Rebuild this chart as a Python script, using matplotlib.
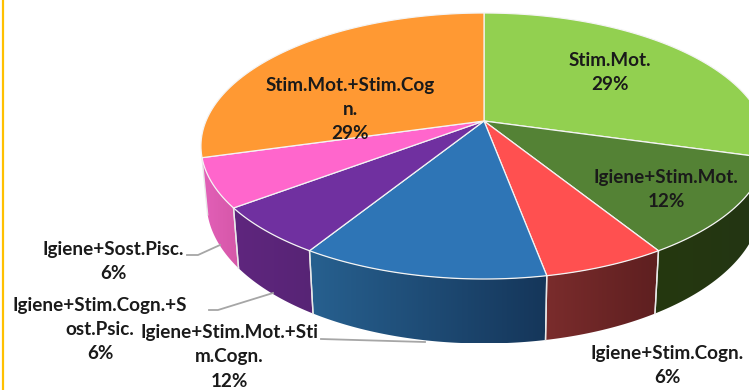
import numpy as np
import matplotlib
matplotlib.use("Agg")
import matplotlib.pyplot as plt
from matplotlib.colors import to_rgb
from matplotlib.patches import Polygon

categories = ["Stim.Mot.", "Igiene+Stim.Mot.", "Igiene+Stim.Cogn.", "Igiene+Stim.Mot.+Sti\nm.Cogn.",
              "Igiene+Stim.Cogn.+S\nost.Psic.", "Igiene+Sost.Pisc.", "Stim.Mot.+Stim.Cog\nn."]
values = [29.4, 11.8, 5.9, 11.8, 5.9, 5.9, 29.4]
top_colors = ["#92D050", "#548235", "#FF5050", "#2E75B6", "#7030A0", "#FF66CC", "#FF9933"]
# rim shading, left end then right end
rim_colors = [("#5f8a34", "#5f8a34"), ("#25380f", "#233514"), ("#7a2c2c", "#5e1f20"),
              ("#27608f", "#15365a"), ("#5f267e", "#572475"), ("#e360b8", "#d557a8"), ("#c47a2c", "#c47a2c")]
# centre of the first line of each label
label_pos = [(610, 60), (666, 177), (667, 353), (229, 332.5), (100, 305), (113, 249), (350, 85)]
line_pitch = 24.3
leaders = [None, None, None,
           [(321, 339), (425, 342)],
           [(209, 310), (218, 310), (273, 293)],
           [(187, 255), (198, 255), (220, 245)],
           None]

# perspective pie: apex in pixels, radii and tilt of the projected circle
X0, Y0 = 484, 121
RX, RY, K = 278, 128.3, 0.188
RIM_SCALE_X, RIM_SCALE_Y, RIM_DROP = 0.98, 1.06, 55


def project(theta):
    # theta in radians, clockwise from the top of the pie
    u, v = np.sin(theta), -np.cos(theta)
    d = 1 - K * v
    return RX * u / d, RY * v / d


def top_arc(a, b, n=80):
    x, y = project(np.linspace(a, b, n))
    return X0 + x, Y0 + y


def rim_arc(a, b, n=80):
    x, y = project(np.linspace(a, b, n))
    return X0 + RIM_SCALE_X * x, Y0 + RIM_DROP + RIM_SCALE_Y * y


plt.rcParams["font.family"] = ["Lato", "DejaVu Sans"]
fig = plt.figure(figsize=(7.49, 3.90), dpi=100)
ax = fig.add_axes([0, 0, 1, 1])
ax.axis("off")

# yellow frame line on the left
ax.axvline(2.5, color="#FFC000", lw=1.6)

edges = np.cumsum([0] + values) / np.sum(values) * 2 * np.pi

# side of the pie, only for slices fully on the front half
for i in range(len(values)):
    a, b = edges[i], edges[i + 1]
    if -np.cos(a) <= 0 or -np.cos(b) <= 0:
        continue
    tx, ty = top_arc(a, b)
    rx, ry = rim_arc(a, b)
    poly = Polygon(np.column_stack([np.r_[tx, rx[::-1]], np.r_[ty, ry[::-1]]]),
                   facecolor="none", edgecolor="none", transform=ax.transData)
    ax.add_patch(poly)
    grad = np.linspace(to_rgb(rim_colors[i][0]), to_rgb(rim_colors[i][1]), 64)[None, :, :]
    im = ax.imshow(grad, extent=[min(tx.min(), rx.min()), max(tx.max(), rx.max()),
                                 max(ty.max(), ry.max()), min(ty.min(), ry.min())],
                   aspect="auto", interpolation="bilinear", zorder=2)
    im.set_clip_path(poly)
    for t in (a, b):
        ex, ey = top_arc(t, t, 1)
        fx, fy = rim_arc(t, t, 1)
        ax.plot([ex[0], fx[0]], [ey[0], fy[0]], color="#e8e8e8", lw=1, zorder=3)

# top face
for i in range(len(values)):
    x, y = top_arc(edges[i], edges[i + 1])
    ax.add_patch(Polygon(np.column_stack([np.r_[X0, x], np.r_[Y0, y]]),
                         facecolor=top_colors[i], edgecolor="#f4f4f4", lw=0.9, zorder=4))

for pts in leaders:
    if pts is not None:
        ax.plot(*zip(*pts), color="#a6a6a6", lw=1.3, zorder=5)

# one text per line, the labels sit very close together
for name, val, (lx, ly) in zip(categories, values, label_pos):
    lines = name.split("\n") + ["%.0f%%" % val]
    for n, line in enumerate(lines):
        ax.text(lx, ly + n * line_pitch, line, ha="center", va="center", fontsize=13.6,
                fontweight="bold", color="#1a1a1a", zorder=6)

ax.set_xlim(0, 749)
ax.set_ylim(390, 0)
fig.savefig("out.png", dpi=100)
